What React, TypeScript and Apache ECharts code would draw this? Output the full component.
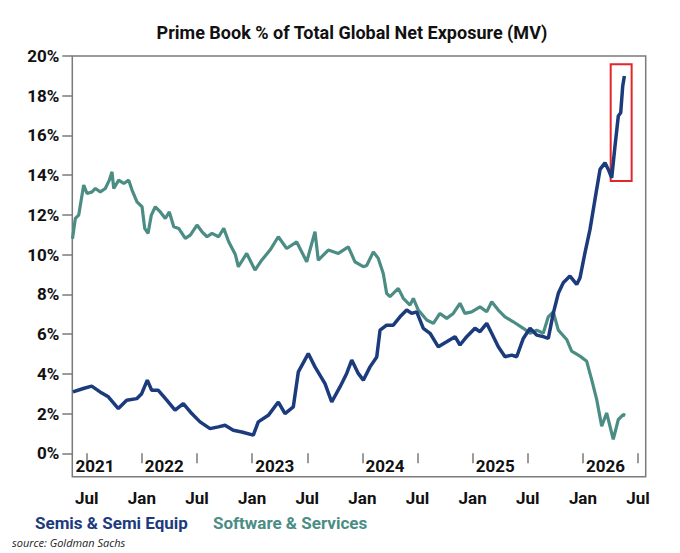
import React, { useEffect, useRef } from "react";
import * as echarts from "echarts";

// x positions are months since 1 Jan 2021 (6 = Jul 2021, 12 = Jan 2022, ...)
const semisT = [4.5, 5.63, 6.54, 7.45, 8.35, 9.44, 10.35, 11.44, 11.98, 12.59, 13.07, 13.79, 14.71, 15.61, 16.51, 17.43, 18.33, 19.42, 20.32, 21.05, 21.95, 22.87, 24.13, 24.67, 25.76, 26.85, 27.58, 28.48, 29.03, 30.11, 30.84, 31.93, 32.66, 33.56, 34.29, 34.84, 35.55, 36.1, 36.83, 37.56, 37.92, 38.64, 39.36, 40.09, 40.82, 41.36, 41.91, 42.63, 43.36, 44.26, 45.17, 46.08, 46.62, 47.35, 48.25, 48.8, 49.53, 50.07, 50.79, 51.52, 52.25, 52.79, 53.51, 54.24, 54.97, 55.68, 56.23, 56.77, 57.32, 57.86, 58.59, 59.32, 59.68, 60.22, 60.77, 61.31, 61.86, 62.4, 62.76, 63.13, 63.49, 63.85, 64.11, 64.33, 64.51];
const semisV = [3.09, 3.26, 3.38, 3.09, 2.84, 2.25, 2.67, 2.75, 3.0, 3.68, 3.17, 3.17, 2.67, 2.17, 2.5, 2.0, 1.58, 1.24, 1.33, 1.41, 1.16, 1.07, 0.91, 1.58, 1.91, 2.58, 2.0, 2.33, 4.1, 5.02, 4.35, 3.51, 2.58, 3.34, 4.02, 4.69, 4.02, 3.68, 4.35, 4.85, 6.2, 6.45, 6.45, 6.87, 7.21, 7.04, 7.12, 6.29, 6.04, 5.36, 5.61, 5.87, 5.45, 5.87, 6.29, 6.12, 6.54, 6.04, 5.36, 4.86, 4.94, 4.86, 5.78, 6.29, 5.95, 5.87, 5.78, 7.04, 8.05, 8.58, 8.92, 8.5, 8.83, 10.09, 11.27, 12.78, 14.29, 14.62, 14.29, 13.87, 15.47, 16.98, 17.14, 18.49, 18.99];

const softT = [4.45, 4.76, 5.13, 5.67, 6.03, 6.58, 6.94, 7.48, 8.02, 8.46, 8.75, 8.94, 9.48, 10.03, 10.57, 10.93, 11.47, 12.02, 12.31, 12.67, 13.03, 13.46, 14.01, 14.55, 14.99, 15.47, 16.01, 16.73, 17.27, 18.0, 18.55, 19.09, 19.63, 20.36, 20.91, 21.45, 22.17, 22.5, 23.41, 24.31, 25.04, 25.95, 26.85, 27.76, 28.85, 29.94, 30.84, 31.2, 32.29, 33.38, 34.47, 35.19, 36.1, 36.47, 37.19, 37.73, 38.27, 38.64, 39.0, 39.91, 40.45, 41.18, 41.54, 42.08, 43.0, 43.72, 44.44, 45.17, 45.89, 46.62, 47.16, 47.89, 48.8, 49.53, 50.07, 50.79, 51.52, 52.42, 53.51, 54.24, 54.97, 55.68, 56.23, 56.77, 57.32, 58.23, 58.77, 59.68, 60.41, 60.95, 61.5, 62.04, 62.58, 63.3, 63.85, 64.39, 64.6];
const softV = [10.8, 11.82, 11.99, 13.5, 13.08, 13.16, 13.33, 13.16, 13.33, 13.75, 14.17, 13.33, 13.75, 13.58, 13.75, 13.25, 12.66, 12.41, 11.32, 11.07, 11.99, 12.41, 12.15, 11.82, 12.15, 11.4, 11.32, 10.82, 10.98, 11.49, 11.15, 10.9, 11.07, 10.9, 11.32, 10.65, 10.01, 9.39, 10.06, 9.22, 9.72, 10.23, 10.9, 10.31, 10.64, 9.64, 11.15, 9.72, 10.23, 10.06, 10.39, 9.64, 9.39, 9.45, 10.14, 9.81, 9.05, 8.05, 7.88, 8.3, 7.8, 7.46, 7.8, 7.21, 6.71, 6.54, 7.04, 6.79, 7.04, 7.55, 7.04, 7.12, 7.37, 7.12, 7.63, 7.21, 6.87, 6.62, 6.29, 6.04, 6.2, 6.04, 6.87, 7.12, 6.2, 5.73, 5.14, 4.89, 4.63, 3.71, 2.7, 1.36, 2.03, 0.7, 1.7, 1.95, 1.9];

const xTickMonths = [6, 12, 18, 24, 30, 36, 42, 48, 54, 60, 66];
const xTickLabels = ["Jul", "Jan", "Jul", "Jan", "Jul", "Jan", "Jul", "Jan", "Jul", "Jan", "Jul"];
const yearMonths = [4.45, 12, 24, 36, 48, 60];
const yearLabels = ["2021", "2022", "2023", "2024", "2025", "2026"];
const yTicks = [0, 2, 4, 6, 8, 10, 12, 14, 16, 18, 20];
const highlightBox = [63.02, 19.58, 65.3, 13.71];

const X_MIN = 4.43;
const X_MAX = 66.83;
const Y_MIN = -1.18;
const Y_MAX = 20;

const NAVY = "#1b3b7d";
const TEAL = "#4b8d84";
const FONT = "Roboto";

export default function App() {
  const ref = useRef<HTMLDivElement>(null);
  useEffect(() => {
    if (!ref.current) return;
    const chart = echarts.init(ref.current, null, { renderer: "svg" });
    const labelFor = (v: number, keys: number[], labels: string[]) => {
      let best = 0;
      for (let i = 0; i < keys.length; i++) {
        if (Math.abs(keys[i] - v) < Math.abs(keys[best] - v)) best = i;
      }
      return labels[best];
    };
    chart.setOption({
      animation: false,
      backgroundColor: "#ffffff",
      grid: {
        left: 72.3,
        right: 34.3,
        top: 56,
        bottom: 76.3,
        show: true,
        borderColor: "#7a7a7a",
        borderWidth: 1.5,
        backgroundColor: "transparent",
      },
      graphic: [
        {
          type: "text",
          x: 352,
          y: 32,
          style: {
            text: "Prime Book % of Total Global Net Exposure (MV)",
            fontFamily: FONT,
            fontWeight: "bold",
            fontSize: 18,
            fill: "#111111",
            textAlign: "center",
            textVerticalAlign: "middle",
          },
        },
        {
          type: "text",
          x: 12,
          y: 542,
          style: {
            text: "source: Goldman Sachs",
            fontFamily: "Open Sans",
            fontStyle: "italic",
            fontSize: 11,
            fill: "#222222",
            textAlign: "left",
            textVerticalAlign: "middle",
          },
        },
      ],
      legend: {
        left: 25,
        top: 508,
        icon: "none",
        itemWidth: 0,
        itemHeight: 20,
        itemGap: 20,
        textStyle: { fontFamily: FONT, fontWeight: "bold", fontSize: 17 },
        data: [
          { name: "Semis & Semi Equip", textStyle: { color: NAVY } },
          { name: "Software & Services", textStyle: { color: TEAL } },
        ],
      },
      xAxis: [
        {
          type: "value",
          min: X_MIN,
          max: X_MAX,
          position: "bottom",
          axisLine: { show: false },
          splitLine: { show: false },
          axisTick: {
            show: true,
            customValues: xTickMonths,
            length: 10,
            lineStyle: { color: "#7a7a7a", width: 1.5 },
          },
          axisLabel: {
            customValues: xTickMonths,
            margin: 13,
            fontFamily: FONT,
            fontWeight: "bold",
            fontSize: 17,
            color: "#111111",
            formatter: (v: number) => labelFor(v, xTickMonths, xTickLabels),
          },
        },
        {
          type: "value",
          min: X_MIN,
          max: X_MAX,
          position: "bottom",
          axisLine: { show: false },
          splitLine: { show: false },
          axisTick: { show: false },
          axisLabel: {
            inside: true,
            customValues: yearMonths,
            align: "left",
            margin: 2,
            padding: [0, 0, 0, 3],
            fontFamily: FONT,
            fontWeight: "bold",
            fontSize: 17,
            color: "#111111",
            formatter: (v: number) => labelFor(v, yearMonths, yearLabels),
          },
        },
      ],
      yAxis: {
        type: "value",
        min: Y_MIN,
        max: Y_MAX,
        axisLine: { show: false },
        splitLine: { show: false },
        axisTick: {
          show: true,
          customValues: yTicks,
          length: 10,
          lineStyle: { color: "#7a7a7a", width: 1.5 },
        },
        axisLabel: {
          customValues: yTicks,
          margin: 13,
          fontFamily: FONT,
          fontWeight: "bold",
          fontSize: 17,
          color: "#111111",
          formatter: (v: number) => `${v}%`,
        },
      },
      series: [
        {
          name: "Software & Services",
          type: "line",
          showSymbol: false,
          symbol: "none",
          color: TEAL,
          lineStyle: { color: TEAL, width: 3.2 },
          data: softT.map((t, i) => [t, softV[i]]),
          z: 2,
        },
        {
          name: "Semis & Semi Equip",
          type: "line",
          showSymbol: false,
          symbol: "none",
          color: NAVY,
          lineStyle: { color: NAVY, width: 3.5 },
          data: semisT.map((t, i) => [t, semisV[i]]),
          z: 3,
          markArea: {
            silent: true,
            itemStyle: {
              color: "rgba(0,0,0,0)",
              borderColor: "#e3262b",
              borderWidth: 2,
            },
            data: [
              [
                { coord: [highlightBox[0], highlightBox[1]] },
                { coord: [highlightBox[2], highlightBox[3]] },
              ],
            ],
          },
        },
      ],
    });
    return () => chart.dispose();
  }, []);
  return (
    <div
      ref={ref}
      style={{ position: "fixed", left: 0, top: 0, width: 680, height: 553, background: "#fff" }}
    />
  );
}
